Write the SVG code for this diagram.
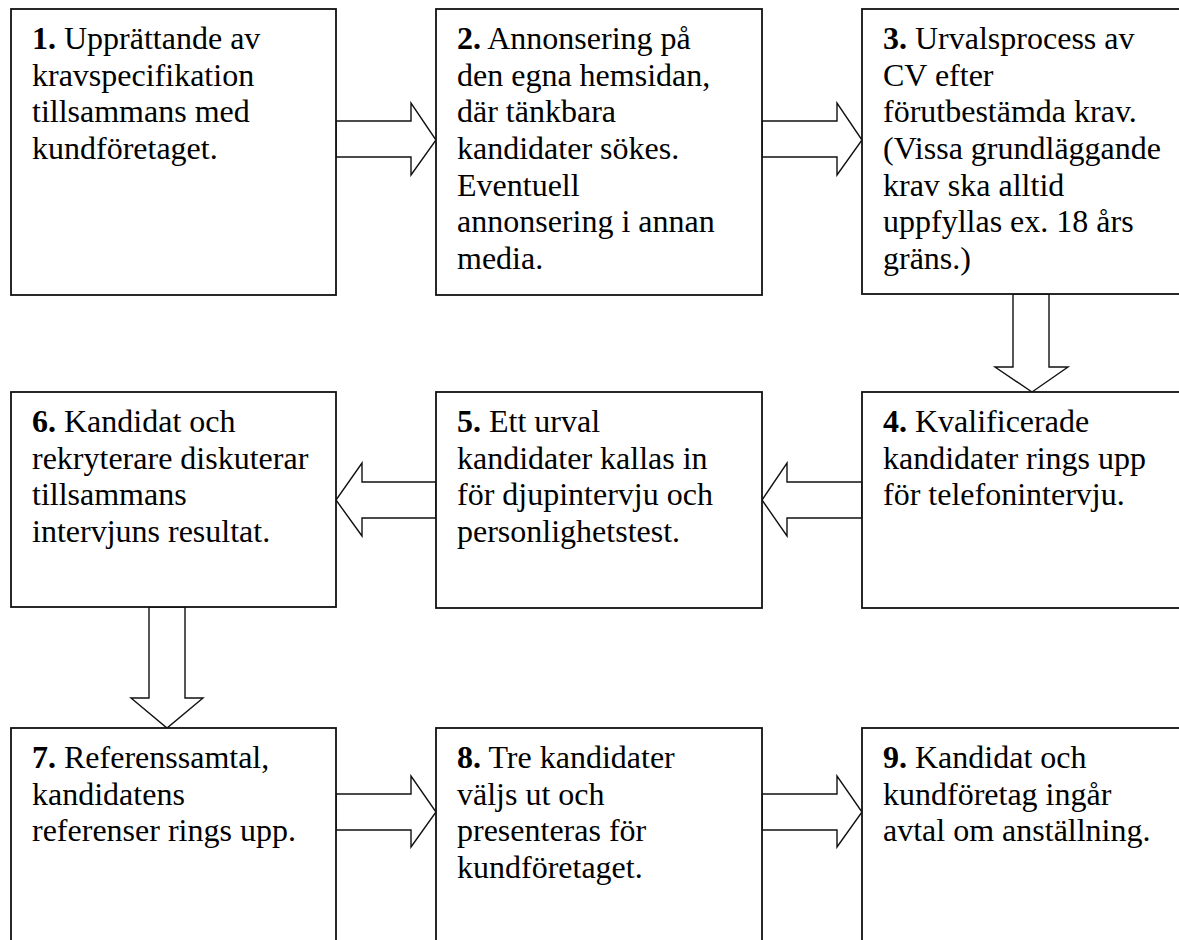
<svg xmlns="http://www.w3.org/2000/svg" width="1179" height="940" viewBox="0 0 1179 940">
<style>
.box{fill:#fff;stroke:#111;stroke-width:1.8}
.arr{fill:#fff;stroke:#111;stroke-width:1.4;stroke-linejoin:miter}
text{font-family:"Liberation Serif","Times New Roman",serif;font-size:32px;fill:#000}
.n{font-weight:bold}
</style>
<rect width="1179" height="940" fill="#fff"/>
<g id="connectors">
<polygon class="arr" points="336,121 411,121 411,103 436,140 411,175 411,157 336,157"/>
<polygon class="arr" points="762,121 837,121 837,103 862,140 837,175 837,157 762,157"/>
<polygon class="arr" points="1013,294 1049,294 1049,367 1068,367 1032,392 995,367 1013,367"/>
<polygon class="arr" points="862,482 787,482 787,463 762,500 787,536 787,518 862,518"/>
<polygon class="arr" points="436,482 362,482 362,463 336,500 362,536 362,518 436,518"/>
<polygon class="arr" points="149,607 185,607 185,698 203,698 167,728 131,698 149,698"/>
<polygon class="arr" points="336,794 411,794 411,776 436,812 411,847 411,830 336,830"/>
<polygon class="arr" points="762,794 837,794 837,776 862,812 837,847 837,830 762,830"/>
</g>
<g id="node1">
<rect class="box" x="11" y="9" width="325" height="286"/>
<text x="32" y="49"><tspan class="n">1.</tspan> Upprättande av<tspan x="32" dy="36.67">kravspecifikation</tspan><tspan x="32" dy="36.67">tillsammans med</tspan><tspan x="32" dy="36.67">kundföretaget.</tspan></text>
</g>
<g id="node2">
<rect class="box" x="436" y="9" width="326" height="286"/>
<text x="457" y="49"><tspan class="n">2.</tspan> Annonsering på<tspan x="457" dy="36.67">den egna hemsidan,</tspan><tspan x="457" dy="36.67">där tänkbara</tspan><tspan x="457" dy="36.67">kandidater sökes.</tspan><tspan x="457" dy="36.67">Eventuell</tspan><tspan x="457" dy="36.67">annonsering i annan</tspan><tspan x="457" dy="36.67">media.</tspan></text>
</g>
<g id="node3">
<rect class="box" x="862" y="9" width="330" height="285"/>
<text x="883" y="49"><tspan class="n">3.</tspan> Urvalsprocess av<tspan x="883" dy="36.67">CV efter</tspan><tspan x="883" dy="36.67">förutbestämda krav.</tspan><tspan x="883" dy="36.67">(Vissa grundläggande</tspan><tspan x="883" dy="36.67">krav ska alltid</tspan><tspan x="883" dy="36.67">uppfyllas ex. 18 års</tspan><tspan x="883" dy="36.67">gräns.)</tspan></text>
</g>
<g id="node4">
<rect class="box" x="862" y="392" width="330" height="216"/>
<text x="883" y="432"><tspan class="n">4.</tspan> Kvalificerade<tspan x="883" dy="36.67">kandidater rings upp</tspan><tspan x="883" dy="36.67">för telefonintervju.</tspan></text>
</g>
<g id="node5">
<rect class="box" x="436" y="392" width="326" height="216"/>
<text x="457" y="432"><tspan class="n">5.</tspan> Ett urval<tspan x="457" dy="36.67">kandidater kallas in</tspan><tspan x="457" dy="36.67">för djupintervju och</tspan><tspan x="457" dy="36.67">personlighetstest.</tspan></text>
</g>
<g id="node6">
<rect class="box" x="11" y="392" width="325" height="215"/>
<text x="32" y="432"><tspan class="n">6.</tspan> Kandidat och<tspan x="32" dy="36.67">rekryterare diskuterar</tspan><tspan x="32" dy="36.67">tillsammans</tspan><tspan x="32" dy="36.67">intervjuns resultat.</tspan></text>
</g>
<g id="node7">
<rect class="box" x="11" y="728" width="325" height="230"/>
<text x="32" y="768"><tspan class="n">7.</tspan> Referenssamtal,<tspan x="32" dy="36.67">kandidatens</tspan><tspan x="32" dy="36.67">referenser rings upp.</tspan></text>
</g>
<g id="node8">
<rect class="box" x="436" y="728" width="326" height="230"/>
<text x="457" y="768"><tspan class="n">8.</tspan> Tre kandidater<tspan x="457" dy="36.67">väljs ut och</tspan><tspan x="457" dy="36.67">presenteras för</tspan><tspan x="457" dy="36.67">kundföretaget.</tspan></text>
</g>
<g id="node9">
<rect class="box" x="862" y="728" width="330" height="230"/>
<text x="883" y="768"><tspan class="n">9.</tspan> Kandidat och<tspan x="883" dy="36.67">kundföretag ingår</tspan><tspan x="883" dy="36.67">avtal om anställning.</tspan></text>
</g>
</svg>
